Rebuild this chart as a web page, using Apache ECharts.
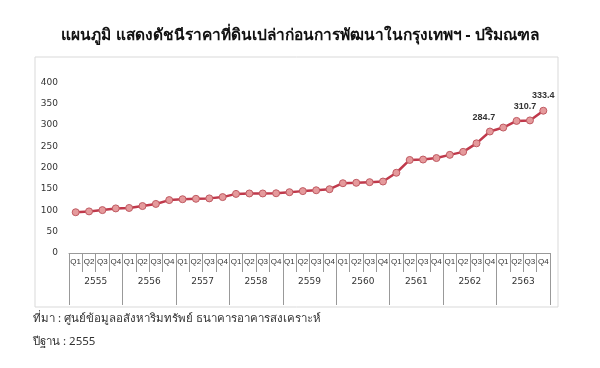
<!DOCTYPE html>
<html>
<head>
<meta charset="utf-8">
<script src="https://cdn.jsdelivr.net/npm/echarts@6/dist/echarts.min.js"></script>
<style>
html,body{margin:0;padding:0;background:#fff;}
#c{width:600px;height:368px;}
</style>
</head>
<body>
<div id="c"></div>
<script>
var titleText = 'แผนภูมิ แสดงดัชนีราคาที่ดินเปล่าก่อนการพัฒนาในกรุงเทพฯ - ปริมณฑล';
var sourceText = 'ที่มา : ศูนย์ข้อมูลอสังหาริมทรัพย์ ธนาคารอาคารสงเคราะห์';
var baseText = 'ปีฐาน : 2555';
var years = ['2555','2556','2557','2558','2559','2560','2561','2562','2563'];
var quarters = ['Q1','Q2','Q3','Q4'];
var values = [95.5,97.5,100.5,104.5, 105.5,110,115,124, 126,127,128,131,
  138.5,139.5,139.5,140, 142.5,145,147,149.5, 163.5,164.5,166,167.5,
  188,218,219,222.5, 230,237,257,284.7, 294,309.5,310.7,333.4];
var labeledIdx = [31,34,35];
var yTicks = [0,50,100,150,200,250,300,350,400];

var cats = [];
years.forEach(function(y){ quarters.forEach(function(q){ cats.push(q); }); });
var labelOffsets = {31:[-6,0],34:[-5,0],35:[0,-2]};
var seriesData = values.map(function(v,i){
  if (labeledIdx.indexOf(i) >= 0) {
    return {value:v, label:{show:true, position:'top', distance:5, offset:labelOffsets[i],
      formatter:function(p){return p.value.toFixed(1);}, fontSize:9, fontWeight:'bold', color:'#333'}};
  }
  return v;
});

var chart = echarts.init(document.getElementById('c'), null, {renderer:'canvas'});
chart.setOption({
  backgroundColor:'#fff',
  animation:false,
  title:{text:titleText, left:'center', top:23,
    textStyle:{fontSize:15.5, fontWeight:'bold', color:'#111', fontFamily:'Noto Sans, sans-serif'}},
  grid:{left:69, right:50, top:82.3, bottom:115},
  xAxis:[{
    type:'category', data:cats, position:'bottom',
    axisLine:{lineStyle:{color:'#999', width:1}},
    axisTick:{show:true, interval:0, length:19, lineStyle:{color:'#999'}},
    axisLabel:{interval:0, margin:5, fontSize:8, color:'#333', fontFamily:'Liberation Sans Narrow, Liberation Sans, sans-serif'}
  },{
    type:'category', data:years, position:'bottom', offset:0,
    axisLine:{show:false},
    axisTick:{show:true, length:52, lineStyle:{color:'#999'}},
    axisLabel:{margin:24, fontSize:9, color:'#333', fontFamily:'DejaVu Sans, sans-serif'}
  }],
  yAxis:{type:'value', min:yTicks[0], max:yTicks[yTicks.length-1], interval:50,
    axisLine:{show:false}, axisTick:{show:false}, splitLine:{show:false},
    axisLabel:{margin:11, fontSize:9, color:'#333', fontFamily:'DejaVu Sans, sans-serif'}},
  graphic:[
    {type:'rect', shape:{x:35, y:57, width:523, height:250}, style:{fill:'none', stroke:'#d9d9d9', lineWidth:1}, z:-1},
    {type:'text', left:33, top:313, style:{text:sourceText, fontSize:11.5, fill:'#333', fontFamily:'Noto Sans, sans-serif'}},
    {type:'text', left:33, top:336, style:{text:baseText, fontSize:11.5, fill:'#333', fontFamily:'Noto Sans, sans-serif'}}
  ],
  series:[{
    type:'line', data:seriesData, xAxisIndex:0,
    symbol:'circle', symbolSize:7,
    lineStyle:{color:'#c0394b', width:2.5},
    itemStyle:{color:'#e59a9c', borderColor:'#c05a62', borderWidth:1},
    label:{show:false}
  }]
});
</script>
</body>
</html>
